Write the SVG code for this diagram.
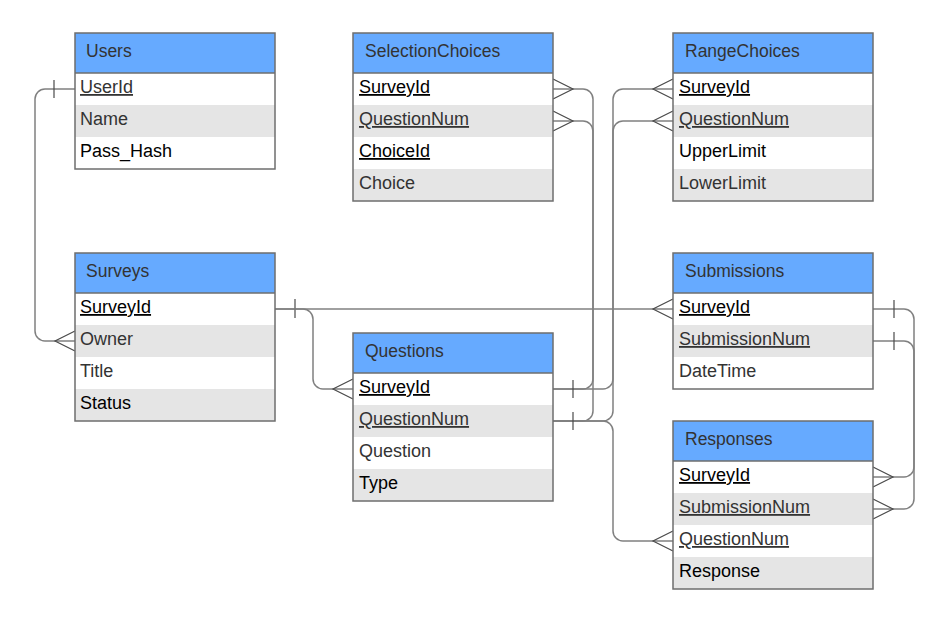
<svg xmlns="http://www.w3.org/2000/svg" width="935" height="624" viewBox="0 0 935 624">
<style>
.hd{fill:#66aaff}
.wr{fill:#ffffff}
.gr{fill:#e5e5e5}
.bd{fill:none;stroke:#6e6e6e;stroke-width:1.5}
.ht{font-family:"Liberation Sans",Arial,sans-serif;font-size:17.5px;fill:#333333}
.tb{font-family:"Liberation Sans",Arial,sans-serif;font-size:18px;fill:#000000}
.tg{font-family:"Liberation Sans",Arial,sans-serif;font-size:18px;fill:#333333}
.u{text-decoration:underline}
.cn{fill:none;stroke:#808080;stroke-width:1.5}
.mk{fill:none;stroke:#4a4a4a;stroke-width:1.2}
</style>
<rect width="935" height="624" fill="#ffffff"/>
<g id="connectors">
  <path class="cn" d="M75,89 H45 A10,10 0 0 0 35,99 V331 A10,10 0 0 0 45,341 H75"/>
  <path class="mk" d="M54,80 V98"/>
  <path class="mk" d="M75,331 L55,341 L75,351"/>
  <path class="cn" d="M275,309 H673"/>
  <path class="mk" d="M295,299 V318"/>
  <path class="mk" d="M673,299 L653,309 L673,319"/>
  <path class="cn" d="M275,309 H303 A10,10 0 0 1 313,319 V379 A10,10 0 0 0 323,389 H353"/>
  <path class="mk" d="M353,379 L333,389 L353,399"/>
  <path class="cn" d="M553,389 H583 A10,10 0 0 0 593,379 V99 A10,10 0 0 0 583,89 H553"/>
  <path class="cn" d="M553,421 H583 A10,10 0 0 0 593,411 V131 A10,10 0 0 0 583,121 H553"/>
  <path class="mk" d="M553,79 L573,89 L553,99"/>
  <path class="mk" d="M553,111 L573,121 L553,131"/>
  <path class="cn" d="M553,389 H603 A10,10 0 0 0 613,379 V99 A10,10 0 0 1 623,89 H673"/>
  <path class="cn" d="M553,421 H603 A10,10 0 0 0 613,411 V131 A10,10 0 0 1 623,121 H673"/>
  <path class="mk" d="M673,79 L653,89 L673,99"/>
  <path class="mk" d="M673,111 L653,121 L673,131"/>
  <path class="cn" d="M553,421 H603 A10,10 0 0 1 613,431 V531 A10,10 0 0 0 623,541 H673"/>
  <path class="mk" d="M673,531 L653,541 L673,551"/>
  <path class="mk" d="M573,380 V398"/>
  <path class="mk" d="M573,412 V430"/>
  <path class="cn" d="M873,309 H904 A10,10 0 0 1 914,319 V467 A10,10 0 0 1 904,477 H873"/>
  <path class="cn" d="M873,341 H904 A10,10 0 0 1 914,351 V499 A10,10 0 0 1 904,509 H873"/>
  <path class="mk" d="M894,300 V318"/>
  <path class="mk" d="M894,332 V350"/>
  <path class="mk" d="M873,467 L893,477 L873,487"/>
  <path class="mk" d="M873,499 L893,509 L873,519"/>
</g>
<g id="users">
  <rect class="hd" x="75" y="33" width="200" height="40"/>
  <rect class="wr" x="75" y="73" width="200" height="32"/>
  <rect class="gr" x="75" y="105" width="200" height="32"/>
  <rect class="wr" x="75" y="137" width="200" height="32"/>
  <rect class="bd" x="75" y="33" width="200" height="136"/>
  <line class="bd" x1="75" y1="73" x2="275" y2="73"/>
  <text class="ht" x="86" y="57">Users</text>
  <text class="tg u" x="80" y="93">UserId</text>
  <text class="tg" x="80" y="125">Name</text>
  <text class="tb" x="80" y="157">Pass_Hash</text>
</g>
<g id="selectionchoices">
  <rect class="hd" x="353" y="33" width="200" height="40"/>
  <rect class="wr" x="353" y="73" width="200" height="32"/>
  <rect class="gr" x="353" y="105" width="200" height="32"/>
  <rect class="wr" x="353" y="137" width="200" height="32"/>
  <rect class="gr" x="353" y="169" width="200" height="32"/>
  <rect class="bd" x="353" y="33" width="200" height="168"/>
  <line class="bd" x1="353" y1="73" x2="553" y2="73"/>
  <text class="ht" x="365" y="57">SelectionChoices</text>
  <text class="tb u" x="359" y="93">SurveyId</text>
  <text class="tg u" x="359" y="125">QuestionNum</text>
  <text class="tb u" x="359" y="157">ChoiceId</text>
  <text class="tg" x="359" y="189">Choice</text>
</g>
<g id="rangechoices">
  <rect class="hd" x="673" y="33" width="200" height="40"/>
  <rect class="wr" x="673" y="73" width="200" height="32"/>
  <rect class="gr" x="673" y="105" width="200" height="32"/>
  <rect class="wr" x="673" y="137" width="200" height="32"/>
  <rect class="gr" x="673" y="169" width="200" height="32"/>
  <rect class="bd" x="673" y="33" width="200" height="168"/>
  <line class="bd" x1="673" y1="73" x2="873" y2="73"/>
  <text class="ht" x="685" y="57">RangeChoices</text>
  <text class="tb u" x="679" y="93">SurveyId</text>
  <text class="tg u" x="679" y="125">QuestionNum</text>
  <text class="tb" x="679" y="157">UpperLimit</text>
  <text class="tg" x="679" y="189">LowerLimit</text>
</g>
<g id="surveys">
  <rect class="hd" x="75" y="253" width="200" height="40"/>
  <rect class="wr" x="75" y="293" width="200" height="32"/>
  <rect class="gr" x="75" y="325" width="200" height="32"/>
  <rect class="wr" x="75" y="357" width="200" height="32"/>
  <rect class="gr" x="75" y="389" width="200" height="32"/>
  <rect class="bd" x="75" y="253" width="200" height="168"/>
  <line class="bd" x1="75" y1="293" x2="275" y2="293"/>
  <text class="ht" x="86" y="277">Surveys</text>
  <text class="tb u" x="80" y="313">SurveyId</text>
  <text class="tg" x="80" y="345">Owner</text>
  <text class="tg" x="80" y="377">Title</text>
  <text class="tb" x="80" y="409">Status</text>
</g>
<g id="submissions">
  <rect class="hd" x="673" y="253" width="200" height="40"/>
  <rect class="wr" x="673" y="293" width="200" height="32"/>
  <rect class="gr" x="673" y="325" width="200" height="32"/>
  <rect class="wr" x="673" y="357" width="200" height="32"/>
  <rect class="bd" x="673" y="253" width="200" height="136"/>
  <line class="bd" x1="673" y1="293" x2="873" y2="293"/>
  <text class="ht" x="685" y="277">Submissions</text>
  <text class="tb u" x="679" y="313">SurveyId</text>
  <text class="tg u" x="679" y="345">SubmissionNum</text>
  <text class="tg" x="679" y="377">DateTime</text>
</g>
<g id="questions">
  <rect class="hd" x="353" y="333" width="200" height="40"/>
  <rect class="wr" x="353" y="373" width="200" height="32"/>
  <rect class="gr" x="353" y="405" width="200" height="32"/>
  <rect class="wr" x="353" y="437" width="200" height="32"/>
  <rect class="gr" x="353" y="469" width="200" height="32"/>
  <rect class="bd" x="353" y="333" width="200" height="168"/>
  <line class="bd" x1="353" y1="373" x2="553" y2="373"/>
  <text class="ht" x="365" y="357">Questions</text>
  <text class="tb u" x="359" y="393">SurveyId</text>
  <text class="tg u" x="359" y="425">QuestionNum</text>
  <text class="tg" x="359" y="457">Question</text>
  <text class="tb" x="359" y="489">Type</text>
</g>
<g id="responses">
  <rect class="hd" x="673" y="421" width="200" height="40"/>
  <rect class="wr" x="673" y="461" width="200" height="32"/>
  <rect class="gr" x="673" y="493" width="200" height="32"/>
  <rect class="wr" x="673" y="525" width="200" height="32"/>
  <rect class="gr" x="673" y="557" width="200" height="32"/>
  <rect class="bd" x="673" y="421" width="200" height="168"/>
  <line class="bd" x1="673" y1="461" x2="873" y2="461"/>
  <text class="ht" x="685" y="445">Responses</text>
  <text class="tb u" x="679" y="481">SurveyId</text>
  <text class="tg u" x="679" y="513">SubmissionNum</text>
  <text class="tg u" x="679" y="545">QuestionNum</text>
  <text class="tb" x="679" y="577">Response</text>
</g>
</svg>
